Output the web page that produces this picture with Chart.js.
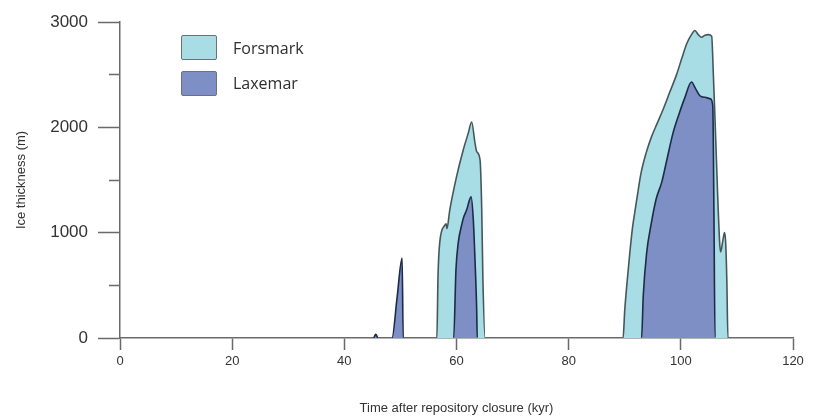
<!DOCTYPE html>
<html>
<head>
<meta charset="utf-8">
<script src="https://cdn.jsdelivr.net/npm/chart.js@4.4.1/dist/chart.umd.min.js"></script>
<style>
    body { margin: 0; background: #fff; }
    #wrap { position: relative; width: 819px; height: 417px; }
    .key { position: absolute; left: 181px; width: 34px; height: 23px; border: 1.5px solid #6b7377; border-radius: 2px; }
    .key-text { position: absolute; left: 233px; font: 16px 'Open Sans', sans-serif; color: #2e2e2e; line-height: 20px; }
</style>
</head>
<body>
<div id="wrap">
    <canvas id="ice-chart" width="819" height="417"></canvas>
    <div class="key" style="top:35px; background:#a8dde5;"></div>
    <div class="key-text" style="top:38px;">Forsmark</div>
    <div class="key" style="top:71px; background:#7e8fc6;"></div>
    <div class="key-text" style="top:73px;">Laxemar</div>
</div>
<script>
// ice thickness (m) against time after closure (kyr)
const forsmarkKyr = [0, 56.5, 56.7, 57.0, 57.9, 58.15, 58.3, 58.8, 60.0, 61.2, 62.1, 62.7, 63.3, 63.6, 64.2, 64.5, 64.7, 65.1,
    89.7, 90.0, 90.4, 90.9, 91.4, 91.9, 92.4, 92.9, 93.8, 94.7, 95.8, 96.8, 98.0, 99.3, 100.2, 101.1, 101.9, 102.5,
    103.1, 103.7, 104.3, 104.9, 105.5, 105.8, 106.1, 106.6, 106.95, 107.1, 107.5, 107.8, 108.0, 108.2, 108.4, 120];
const forsmarkIce = [0, 0, 580, 900, 1070, 1085, 1040, 1215, 1530, 1785, 1945, 2050, 1850, 1770, 1690, 1215, 580, 0,
    0, 265, 522, 807, 1055, 1230, 1405, 1565, 1755, 1900, 2040, 2165, 2330, 2510, 2660, 2800, 2880, 2920,
    2880, 2855, 2875, 2880, 2865, 2500, 2070, 1310, 880, 817, 930, 1000, 900, 550, 0, 0];

const laxemarKyr = [0, 45.2, 45.6, 46.0, 48.5, 49.4, 50.3, 50.5,
    59.5, 59.9, 60.3, 61.0, 61.3, 61.8, 62.6, 63.0, 63.3, 63.6, 63.7,
    93.0, 93.3, 93.9, 94.7, 95.6, 96.6, 97.5, 98.6, 99.7, 100.7, 101.9, 102.6, 103.4, 104.3, 105.3, 105.7, 105.9, 106.1, 120];
const laxemarIce = [0, 0, 35, 0, 0, 380, 760, 0,
    0, 645, 900, 1090, 1150, 1215, 1340, 1120, 740, 270, 0,
    0, 400, 807, 1080, 1320, 1480, 1690, 1945, 2130, 2280, 2430, 2370, 2300, 2285, 2270, 2200, 1200, 0, 0];

const seriesNames = ['Forsmark', 'Laxemar'];

function toPoints(xs, ys) {
    return xs.map((x, i) => ({ x: x, y: ys[i] }));
}

// no outline where the ice is zero on both ends, the axis shows there
const hideFlat = ctx => (ctx.p0.parsed.y === 0 && ctx.p1.parsed.y === 0) ? 'rgba(0,0,0,0)' : undefined;

const axisColor = '#6a6a6a';
const textFont = "'Liberation Sans', Arial, sans-serif";

window.onload = () => {
    let iceChart = {
        type: 'line',
        data: {
            datasets: [{
                label: seriesNames[1],
                data: toPoints(laxemarKyr, laxemarIce),
                backgroundColor: '#7e8fc6',
                borderColor: '#1d2b45',
                borderWidth: 1.6,
                fill: 'origin',
                pointRadius: 0,
                cubicInterpolationMode: 'monotone',
                segment: { borderColor: hideFlat },
                order: 0
            }, {
                label: seriesNames[0],
                data: toPoints(forsmarkKyr, forsmarkIce),
                backgroundColor: '#a8dde5',
                borderColor: '#46575c',
                borderWidth: 1.6,
                fill: 'origin',
                pointRadius: 0,
                cubicInterpolationMode: 'monotone',
                segment: { borderColor: hideFlat },
                order: 1
            }]
        },
        options: {
            responsive: false,
            animation: false,
            layout: { padding: { top: 22, right: 26, left: 0, bottom: 0 } },
            plugins: {
                legend: { display: false },
                tooltip: { enabled: false }
            },
            scales: {
                x: {
                    type: 'linear',
                    min: 0,
                    max: 120,
                    afterFit: scale => { scale.height = 79; },
                    border: { color: axisColor, width: 1.5 },
                    grid: { drawOnChartArea: false, tickLength: 12, tickColor: axisColor, tickWidth: 1.5 },
                    ticks: { stepSize: 20, padding: 4, color: '#333', font: { family: textFont, size: 13 } },
                    title: {
                        display: true,
                        text: 'Time after repository closure (kyr)',
                        color: '#333',
                        font: { family: textFont, size: 13 },
                        padding: { top: 0, bottom: 1 }
                    }
                },
                y: {
                    min: 0,
                    max: 3000,
                    afterFit: scale => { scale.width = 120; },
                    border: { color: axisColor, width: 1.5 },
                    grid: {
                        drawOnChartArea: false,
                        tickLength: 22,
                        tickColor: axisColor,
                        tickWidth: 1.5,
                        tickBorderDash: ctx => (ctx.tick && ctx.tick.value % 1000 !== 0) ? [0, 11, 11] : []
                    },
                    ticks: {
                        stepSize: 500,
                        padding: 10,
                        color: '#333',
                        font: { family: textFont, size: 17 },
                        callback: v => (v % 1000 === 0 ? v : '')
                    },
                    title: {
                        display: true,
                        text: 'Ice thickness (m)',
                        color: '#333',
                        font: { family: textFont, size: 13 },
                        padding: { top: 14, bottom: 0 }
                    }
                }
            }
        }
    };

    new Chart(document.getElementById('ice-chart'), iceChart);
};
</script>
</body>
</html>
